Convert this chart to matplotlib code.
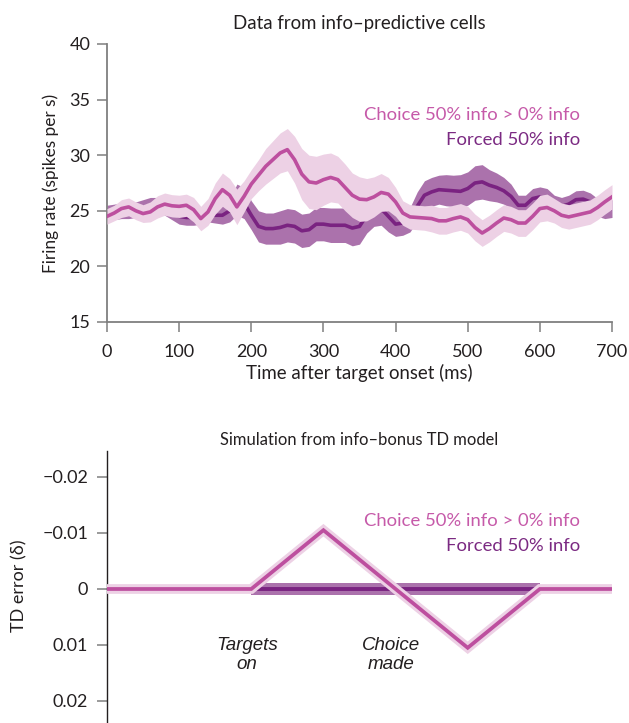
import numpy as np
import matplotlib
matplotlib.use("Agg")
import matplotlib.pyplot as plt

plt.rcParams['font.family'] = ['Lato', 'DejaVu Sans']

# ---- Recorded firing rates (10 ms bins) ----
time_ms = list(range(0, 701, 10))

choice_mean = [24.5, 24.8, 25.2, 25.35, 25.0, 24.75, 24.9, 25.35, 25.6, 25.45,
               25.4, 25.5, 25.1, 24.3, 24.9, 26.1, 26.9, 26.4, 25.35, 26.3,
               27.4, 28.2, 29.0, 29.6, 30.2, 30.5, 29.6, 28.3, 27.6, 27.5,
               27.8, 28.0, 27.8, 27.1, 26.4, 26.05, 26.0, 26.25, 26.65, 26.5,
               25.8, 24.8, 24.45, 24.4, 24.35, 24.3, 24.1, 24.1, 24.3, 24.45,
               24.2, 23.5, 23.0, 23.4, 23.9, 24.35, 24.2, 23.9, 23.9, 24.5,
               25.2, 25.3, 25.0, 24.6, 24.45, 24.6, 24.75, 24.9, 25.3, 25.8,
               26.25]
choice_sem = [0.7, 0.7, 0.8, 0.8, 0.8, 0.8, 0.9, 1.0, 1.0, 1.0,
              1.0, 1.0, 1.1, 1.1, 1.2, 1.4, 1.5, 1.5, 1.6, 1.4,
              1.3, 1.4, 1.6, 1.7, 1.8, 1.9, 2.1, 2.3, 2.4, 2.4,
              2.3, 2.2, 2.1, 2.1, 2.0, 2.0, 1.9, 1.8, 1.7, 1.5,
              1.3, 1.1, 1.1, 1.1, 1.1, 1.2, 1.2, 1.2, 1.2, 1.2,
              1.2, 1.2, 1.2, 1.2, 1.2, 1.2, 1.2, 1.2, 1.2, 1.2,
              1.2, 1.2, 1.1, 1.1, 1.1, 1.1, 1.1, 1.1, 1.1, 1.1,
              1.1]

forced_mean = [24.8, 24.9, 25.0, 25.0, 25.1, 25.3, 25.5, 25.5, 25.3, 24.9,
               24.5, 24.4, 24.4, 24.5, 24.7, 24.6, 24.6, 25.0, 26.0, 25.7,
               24.6, 23.6, 23.4, 23.4, 23.5, 23.7, 23.6, 23.2, 23.3, 23.8,
               23.8, 23.7, 23.7, 23.7, 23.45, 23.6, 24.6, 25.2, 25.2, 24.5,
               23.8, 23.9, 24.2, 25.4, 26.4, 26.7, 26.9, 26.85, 26.8, 26.75,
               27.0, 27.5, 27.6, 27.3, 27.1, 26.8, 26.3, 25.5, 25.5, 26.1,
               26.25, 26.1, 25.6, 25.4, 25.6, 26.0, 26.05, 25.8, 25.3, 25.1,
               25.2]
forced_sem = [0.7, 0.7, 0.7, 0.7, 0.7, 0.7, 0.7, 0.7, 0.7, 0.7,
              0.7, 0.7, 0.7, 0.7, 0.7, 0.7, 0.8, 1.0, 1.4, 1.4,
              1.3, 1.4, 1.4, 1.4, 1.5, 1.5, 1.5, 1.5, 1.5, 1.5,
              1.5, 1.55, 1.55, 1.55, 1.6, 1.6, 1.6, 1.6, 1.5, 1.4,
              1.1, 1.1, 1.1, 1.3, 1.3, 1.3, 1.3, 1.4, 1.4, 1.5,
              1.5, 1.55, 1.55, 1.4, 1.3, 1.2, 1.1, 0.9, 0.9, 0.9,
              0.9, 0.9, 0.8, 0.8, 0.8, 0.8, 0.8, 0.8, 0.8, 0.8,
              0.8]

# ---- TD model prediction errors ----
model_time = [0, 200, 300, 500, 600, 700]
model_choice = [0.0, 0.0, -0.0105, 0.0105, 0.0, 0.0]
forced_time = [200, 600]
forced_value = [0.0, 0.0]
forced_spread = 0.001

top_yticks = [15, 20, 25, 30, 35, 40]
top_xticks = [0, 100, 200, 300, 400, 500, 600, 700]
bottom_yticks = [-0.02, -0.01, 0, 0.01, 0.02]
bottom_yticklabels = ['\u22120.02', '\u22120.01', '0', '0.01', '0.02']

label_choice = 'Choice 50% info > 0% info'
label_forced = 'Forced 50% info'

# colours
C_LINE = '#bd4f9f'
C_BAND = '#edd1e5'
F_LINE = '#7a2381'
F_BAND = '#ab72ac'
C_TEXT = '#c65aa9'
F_TEXT = '#7b2a82'
AX_GRAY = '#7f7f7f'
TXT = '#231f20'

fig = plt.figure(figsize=(6.29, 7.23), dpi=100)

# ================= top panel =================
ax = fig.add_axes([107 / 629, 1 - 322 / 723, 505 / 629, 278 / 723])
t = np.array(time_ms)
cm, cs = np.array(choice_mean), np.array(choice_sem)
fm, fs = np.array(forced_mean), np.array(forced_sem)

ax.fill_between(t, fm - fs, fm + fs, color=F_BAND, lw=0, zorder=1)
ax.plot(t, fm, color=F_LINE, lw=2.6, zorder=2, solid_joinstyle='round')
ax.fill_between(t, cm - cs, cm + cs, color=C_BAND, lw=0, zorder=3)
ax.plot(t, cm, color=C_LINE, lw=2.6, zorder=4, solid_joinstyle='round')

ax.set_xlim(0, 700)
ax.set_ylim(15, 40)
ax.set_xticks(top_xticks)
ax.set_yticks(top_yticks)
for s in ['top', 'right']:
    ax.spines[s].set_visible(False)
for s in ['left', 'bottom']:
    ax.spines[s].set_color(AX_GRAY)
    ax.spines[s].set_linewidth(1.3)
ax.tick_params(direction='out', length=7, width=1.1, color=AX_GRAY,
               labelsize=13, labelcolor=TXT)
ax.tick_params(axis='y', pad=5)
ax.tick_params(axis='x', pad=9)
ax.set_title('Data from info\u2013predictive cells', fontsize=13.4,
             color=TXT, pad=10.5)
ax.set_xlabel('Time after target onset (ms)', fontsize=13.4, color=TXT,
              labelpad=3)
ax.set_ylabel('Firing rate (spikes per s)', fontsize=12.4, color=TXT)
ax.yaxis.set_label_coords(-0.095, 0.5)

ax.text(656, 33.6, label_choice, color=C_TEXT, fontsize=13.3,
        ha='right', va='center')
ax.text(656, 31.35, label_forced, color=F_TEXT, fontsize=13.3,
        ha='right', va='center')

# ================= bottom panel =================
bx = fig.add_axes([107 / 629, 0, 505 / 629, 272 / 723])
bx.fill_between(forced_time,
                np.array(forced_value) - forced_spread,
                np.array(forced_value) + forced_spread,
                color=F_BAND, lw=0, zorder=1)
bx.plot(forced_time, forced_value, color=F_LINE, lw=2.8, zorder=2,
        solid_capstyle='butt')
bx.plot(model_time, model_choice, color=C_BAND, lw=7, zorder=3,
        solid_joinstyle='miter', solid_capstyle='butt', clip_on=False)
bx.plot(model_time, model_choice, color=C_LINE, lw=2.7, zorder=4,
        solid_joinstyle='miter', solid_capstyle='butt', clip_on=False)

bx.set_xlim(0, 700)
bx.set_ylim(0.02393, -0.02464)
bx.set_xticks([])
bx.set_yticks(bottom_yticks)
bx.set_yticklabels(bottom_yticklabels)
for s in ['top', 'right', 'bottom']:
    bx.spines[s].set_visible(False)
bx.spines['left'].set_color('#231f20')
bx.spines['left'].set_linewidth(1.0)
bx.tick_params(axis='y', direction='out', length=7, width=1.1,
               color=AX_GRAY, labelsize=13, labelcolor=TXT, pad=6.5)
bx.set_title('Simulation from info\u2013bonus TD model', fontsize=11.9,
             color=TXT, pad=4.5)
bx.set_ylabel('TD error (\u03b4)', fontsize=13, color=TXT)
bx.yaxis.set_label_coords(-0.158, 0.505)

bx.text(656, -0.0121, label_choice, color=C_TEXT, fontsize=13.3,
        ha='right', va='center')
bx.text(656, -0.0076, label_forced, color=F_TEXT, fontsize=13.3,
        ha='right', va='center')

for x, lab in [(194, 'Targets\non'), (394, 'Choice\nmade')]:
    bx.text(x, 0.0118, lab, fontsize=13.5, style='italic', color=TXT,
            ha='center', va='center', linespacing=1.1,
            family=['Liberation Sans', 'DejaVu Sans'])

fig.savefig('out.png', dpi=100)
